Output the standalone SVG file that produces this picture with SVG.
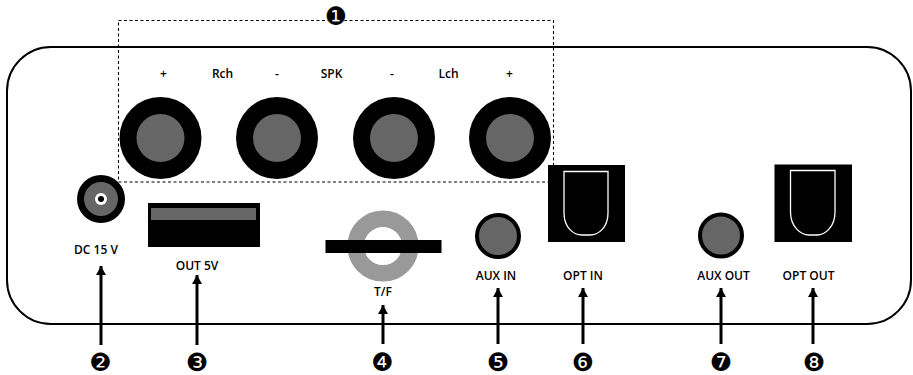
<svg xmlns="http://www.w3.org/2000/svg" width="913" height="375" viewBox="0 0 913 375">
<style>
.lb{font-family:"Open Sans","Noto Sans",sans-serif;font-size:12px;font-weight:600;fill:#000;text-anchor:middle}
.num{font-family:"DejaVu Sans",sans-serif;font-size:25px;fill:#000;text-anchor:middle}
.gray{fill:#666}
.opt{fill:none;stroke:#fff;stroke-width:1.3}
.arrow{stroke:#000;stroke-width:3;fill:none;marker-end:url(#ah)}
</style>
<defs>
<marker id="ah" markerUnits="userSpaceOnUse" markerWidth="10" markerHeight="11" refX="9" refY="5" orient="auto"><path d="M0 0L9 5L0 10Z" fill="#000"/></marker>
</defs>
<rect x="0" y="0" width="913" height="375" fill="#fff"/>
<g id="panel"><rect x="7" y="47" width="904" height="277" rx="44" ry="44" fill="none" stroke="#000" stroke-width="2"/></g>
<g id="group-1">
<rect x="118.500" y="20.500" width="435" height="161.500" fill="none" stroke="#000" stroke-dasharray="3 2.500" stroke-width="1.100"/>
<circle cx="336" cy="16" r="9.500" fill="#fff"/>
<text class="num" x="336" y="24.500">❶</text>
</g>
<g id="speaker-terminals">
<g id="spk-r-plus"><circle cx="160.500" cy="138" r="41"/><circle class="gray" cx="160.500" cy="138" r="24"/><text class="lb" x="163.500" y="78">+</text></g>
<g id="spk-r-minus"><circle cx="277" cy="138" r="41"/><circle class="gray" cx="277" cy="138" r="24"/><text class="lb" x="277" y="78">-</text></g>
<g id="spk-l-minus"><circle cx="394" cy="138" r="41"/><circle class="gray" cx="394" cy="138" r="24"/><text class="lb" x="392" y="78">-</text></g>
<g id="spk-l-plus"><circle cx="510" cy="138" r="41"/><circle class="gray" cx="510" cy="138" r="24"/><text class="lb" x="509.500" y="78">+</text></g>
<text class="lb" x="222.500" y="78">Rch</text>
<text class="lb" x="331.500" y="78">SPK</text>
<text class="lb" x="448.500" y="78">Lch</text>
</g>
<g id="dc"><circle cx="101" cy="199" r="24"/><circle class="gray" cx="101" cy="199" r="17"/><circle cx="101" cy="199" r="6" fill="#fff"/><circle cx="101" cy="199" r="3"/><text class="lb" x="96" y="254">DC 15 V</text></g>
<g id="usb"><rect x="148" y="203" width="112" height="44"/><rect class="gray" x="151" y="208" width="105" height="12"/><text class="lb" x="197" y="270">OUT 5V</text></g>
<g id="tf"><circle cx="383" cy="246" r="27.300" fill="none" stroke="#999" stroke-width="16.500"/><rect x="325.500" y="240" width="116" height="13"/><text class="lb" x="383" y="296">T/F</text></g>
<g id="aux-in"><circle class="gray" cx="498" cy="236" r="21" stroke="#000" stroke-width="4"/><text class="lb" x="496" y="280">AUX IN</text></g>
<g id="opt-in"><rect x="548" y="165" width="77" height="77"/><path class="opt" d="M564 171.500H608V213C608 228 598 235 590 235H582C574 235 564 228 564 213Z"/><text class="lb" x="583" y="280">OPT IN</text></g>
<g id="aux-out"><circle class="gray" cx="721" cy="235.500" r="21" stroke="#000" stroke-width="4"/><text class="lb" x="723.500" y="280">AUX OUT</text></g>
<g id="opt-out"><rect x="774.500" y="164.500" width="77.500" height="77.500"/><path class="opt" d="M790.500 170.500H835V212C835 227 825 235 817 235H809C801 235 790.500 227 790.500 212Z"/><text class="lb" x="808.500" y="280">OPT OUT</text></g>
<g id="connectors">
<line class="arrow" x1="101" y1="345" x2="101" y2="266"/>
<line class="arrow" x1="197" y1="345" x2="197" y2="275"/>
<line class="arrow" x1="383" y1="344" x2="383" y2="305"/>
<line class="arrow" x1="498" y1="344" x2="498" y2="288"/>
<line class="arrow" x1="583" y1="344" x2="583" y2="288"/>
<line class="arrow" x1="721" y1="344" x2="721" y2="288"/>
<line class="arrow" x1="813" y1="344" x2="813" y2="288"/>
</g>
<g id="numbers">
<text class="num" x="100.500" y="371">❷</text>
<text class="num" x="197" y="371">❸</text>
<text class="num" x="382.500" y="371">❹</text>
<text class="num" x="498" y="371">❺</text>
<text class="num" x="583" y="371">❻</text>
<text class="num" x="721" y="371">❼</text>
<text class="num" x="814" y="371">❽</text>
</g>
</svg>
